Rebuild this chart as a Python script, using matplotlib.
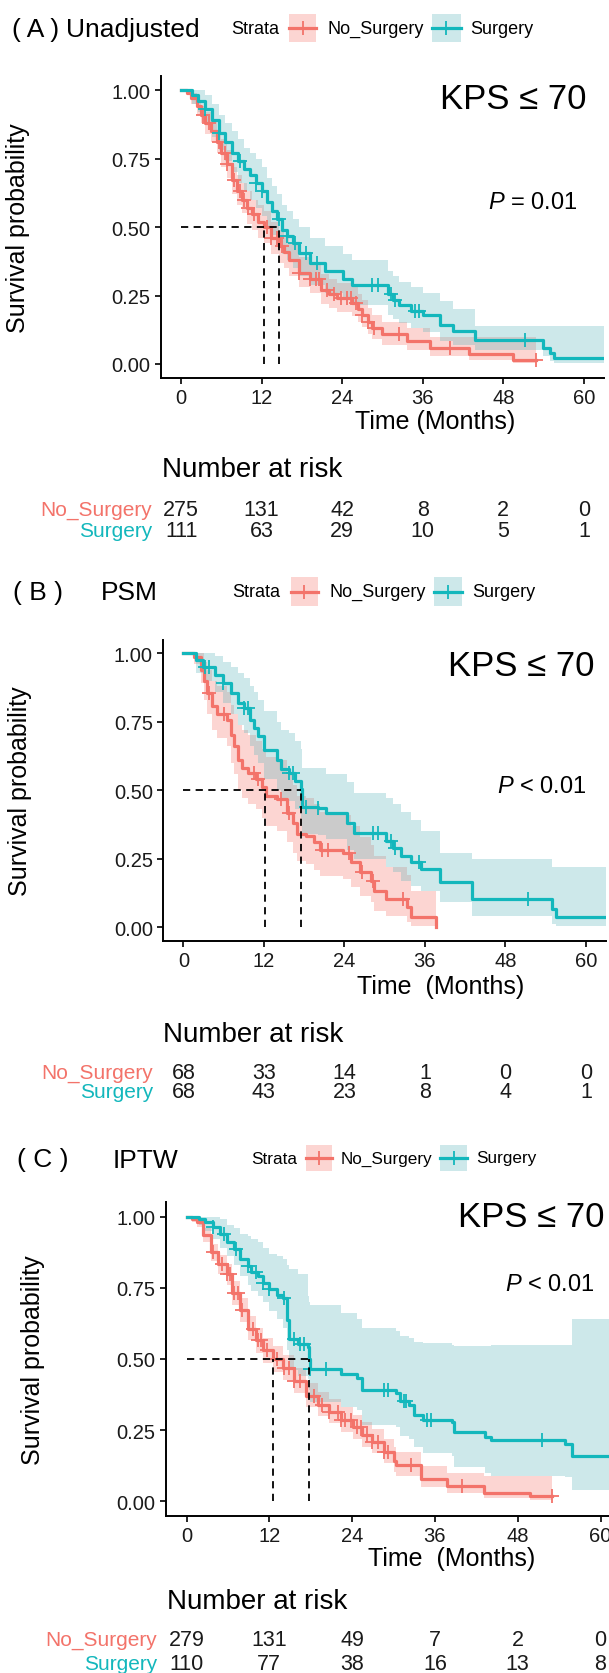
import matplotlib.pyplot as plt
from matplotlib.lines import Line2D
from matplotlib.patches import Rectangle
from matplotlib.transforms import blended_transform_factory
import numpy as np

plt.rcParams['font.family'] = ['Liberation Sans', 'DejaVu Sans']
plt.rcParams['mathtext.fontset'] = 'custom'
plt.rcParams['mathtext.it'] = 'Liberation Sans:italic'
plt.rcParams['mathtext.rm'] = 'Liberation Sans'

W, H = 609, 1674
RED, TEAL = '#F3736A', '#13B7BC'
RED_FILL, TEAL_FILL = '#F8766D', '#5BB5BB'

groups = ['No_Surgery', 'Surgery']
risk_times = [0, 12, 24, 36, 48, 60]

# ---- (A) Unadjusted ----
a_ns_time = [0, 0.8, 1.5, 2.3, 3.0, 3.6, 4.4, 5.3, 6.0, 6.8, 7.6, 8.3, 9.1, 9.8, 10.5, 11.4, 12.3, 13.4,
             14.6, 15.3, 16.0, 17.5, 19.2, 20.9, 22.0, 23.2, 25.5, 26.3, 27.0, 27.8, 28.4, 29.9, 33.6,
             37.1, 42.9, 49.5]
a_ns_surv = [1.0, 0.99, 0.97, 0.94, 0.91, 0.88, 0.85, 0.81, 0.77, 0.73, 0.67, 0.63, 0.60, 0.57, 0.546,
             0.52, 0.50, 0.46, 0.43, 0.41, 0.38, 0.333, 0.31, 0.27, 0.255, 0.24, 0.223, 0.20, 0.18, 0.155,
             0.13, 0.108, 0.083, 0.059, 0.035, 0.016]
a_ns_lower = [1.0, 0.98, 0.95, 0.91, 0.88, 0.84, 0.81, 0.77, 0.72, 0.68, 0.62, 0.58, 0.55, 0.51, 0.49,
              0.46, 0.44, 0.40, 0.37, 0.35, 0.32, 0.28, 0.26, 0.22, 0.205, 0.19, 0.175, 0.155, 0.135, 0.11,
              0.09, 0.07, 0.05, 0.03, 0.015, 0.004]
a_ns_upper = [1.0, 1.0, 0.99, 0.96, 0.94, 0.92, 0.89, 0.85, 0.82, 0.78, 0.72, 0.69, 0.66, 0.63, 0.60,
              0.58, 0.56, 0.52, 0.49, 0.47, 0.44, 0.39, 0.37, 0.33, 0.31, 0.295, 0.28, 0.255, 0.235, 0.205,
              0.18, 0.155, 0.13, 0.10, 0.10, 0.10]
a_ns_end = 52.8
a_ns_cens = [3.3, 4.2, 5.6, 6.5, 6.8, 7.9, 8.8, 9.4, 9.9, 10.8, 12.8, 13.4, 14.3, 15.1, 17.5, 19.2, 20.1,
             20.6, 21.8, 22.7, 23.8, 24.7, 25.3, 26.1, 27.0, 27.9, 28.7, 32.5, 40.0, 52.8]

a_s_time = [0, 1.6, 2.5, 3.6, 4.6, 5.6, 6.6, 7.6, 8.5, 9.4, 10.2, 11.1, 12.0, 12.8, 13.6, 14.3, 15.0, 15.7,
            16.6, 17.5, 19.2, 21.5, 24.1, 25.5, 30.8, 31.6, 32.5, 34.2, 36.0, 38.6, 40.5, 43.8, 53.9, 55.0,
            55.6]
a_s_surv = [1.0, 0.98, 0.96, 0.93, 0.89, 0.844, 0.81, 0.77, 0.74, 0.71, 0.69, 0.66, 0.63, 0.59, 0.56, 0.53,
            0.49, 0.467, 0.44, 0.406, 0.37, 0.34, 0.31, 0.29, 0.254, 0.235, 0.217, 0.195, 0.18, 0.144, 0.12,
            0.089, 0.059, 0.04, 0.022]
a_s_lower = [1.0, 0.95, 0.92, 0.88, 0.83, 0.78, 0.74, 0.70, 0.66, 0.63, 0.60, 0.57, 0.54, 0.50, 0.47, 0.44,
             0.40, 0.38, 0.35, 0.32, 0.29, 0.26, 0.235, 0.215, 0.18, 0.165, 0.15, 0.13, 0.115, 0.085, 0.07,
             0.05, 0.03, 0.01, 0.003]
a_s_upper = [1.0, 1.0, 1.0, 0.98, 0.95, 0.91, 0.88, 0.85, 0.82, 0.79, 0.77, 0.75, 0.72, 0.68, 0.65, 0.62,
             0.58, 0.56, 0.53, 0.50, 0.46, 0.43, 0.40, 0.38, 0.34, 0.32, 0.30, 0.28, 0.26, 0.23, 0.20, 0.14,
             0.14, 0.14, 0.14]
a_s_end = 63
a_s_cens = [3.6, 5.6, 8.8, 11.1, 12.0, 14.6, 15.7, 16.9, 18.6, 20.3, 28.4, 29.3, 31.3, 31.9, 34.8, 35.4, 51.3]

a_medians = [12.4, 14.6]
a_risk_ns = [275, 131, 42, 8, 2, 0]
a_risk_s = [111, 63, 29, 10, 5, 1]

# ---- (B) PSM ----
b_ns_time = [0, 1.6, 2.7, 3.1, 3.6, 4.3, 5.0, 6.5, 7.1, 7.6, 8.2, 8.8, 9.7, 10.8, 11.7, 12.3, 14.0, 15.4,
             16.3, 16.9, 18.3, 19.5, 20.3, 23.8, 25.0, 26.4, 27.9, 28.4, 30.2, 33.4, 33.9, 37.7]
b_ns_surv = [1.0, 0.985, 0.94, 0.90, 0.855, 0.806, 0.78, 0.757, 0.70, 0.66, 0.61, 0.58, 0.564, 0.54, 0.51,
             0.48, 0.467, 0.418, 0.38, 0.34, 0.333, 0.31, 0.28, 0.27, 0.236, 0.20, 0.17, 0.133, 0.103, 0.073,
             0.036, 0.0]
b_ns_lower = [1.0, 0.96, 0.89, 0.83, 0.78, 0.72, 0.69, 0.66, 0.60, 0.56, 0.50, 0.47, 0.45, 0.43, 0.40, 0.37,
              0.35, 0.31, 0.27, 0.24, 0.23, 0.21, 0.185, 0.175, 0.145, 0.115, 0.09, 0.06, 0.04, 0.02, 0.005,
              0.0]
b_ns_upper = [1.0, 1.0, 1.0, 0.97, 0.94, 0.90, 0.88, 0.86, 0.81, 0.78, 0.74, 0.72, 0.70, 0.68, 0.65, 0.62,
              0.61, 0.56, 0.52, 0.48, 0.47, 0.45, 0.42, 0.41, 0.37, 0.33, 0.30, 0.26, 0.22, 0.19, 0.13, 0.13]
b_ns_end = 37.7
b_ns_cens = [3.9, 6.1, 10.5, 11.1, 14.6, 15.7, 20.6, 21.5, 24.7, 26.7, 28.2, 32.8]

b_s_time = [0, 1.85, 3.0, 4.7, 5.9, 7.1, 8.2, 9.1, 9.9, 10.5, 11.1, 12.0, 14.0, 14.6, 15.7, 16.6, 17.5,
            17.7, 20.0, 21.2, 24.4, 25.4, 30.2, 31.3, 32.5, 33.9, 35.4, 38.3, 43.1, 55.0, 55.5]
b_s_surv = [1.0, 0.976, 0.95, 0.92, 0.89, 0.855, 0.82, 0.80, 0.757, 0.727, 0.697, 0.648, 0.61, 0.576,
            0.564, 0.533, 0.503, 0.44, 0.436, 0.418, 0.38, 0.345, 0.315, 0.29, 0.26, 0.236, 0.212, 0.164,
            0.103, 0.067, 0.036]
b_s_lower = [1.0, 0.93, 0.90, 0.86, 0.82, 0.78, 0.74, 0.71, 0.66, 0.63, 0.60, 0.54, 0.50, 0.47, 0.46, 0.43,
             0.40, 0.34, 0.335, 0.32, 0.28, 0.25, 0.22, 0.20, 0.17, 0.15, 0.13, 0.09, 0.04, 0.012, 0.004]
b_s_upper = [1.0, 1.0, 1.0, 0.99, 0.97, 0.95, 0.93, 0.91, 0.88, 0.86, 0.83, 0.79, 0.75, 0.72, 0.71, 0.68,
             0.65, 0.58, 0.58, 0.56, 0.53, 0.49, 0.47, 0.45, 0.42, 0.39, 0.35, 0.27, 0.25, 0.22, 0.22]
b_s_end = 63
b_s_cens = [3.3, 3.9, 5.9, 9.1, 9.7, 15.7, 16.3, 18.3, 20.1, 28.2, 29.0, 31.0, 31.6, 35.1, 51.3]

b_medians = [12.1, 17.6]
b_risk_ns = [68, 33, 14, 1, 0, 0]
b_risk_s = [68, 43, 23, 8, 4, 1]

# ---- (C) IPTW ----
c_ns_time = [0, 0.8, 1.5, 2.4, 3.5, 4.6, 5.8, 6.6, 7.7, 8.9, 10.0, 11.1, 12.5, 14.0, 15.6, 17.3, 19.0,
             20.7, 22.4, 24.1, 25.5, 26.9, 28.6, 30.0, 30.3, 34.0, 37.7, 43.1, 49.8]
c_ns_surv = [1.0, 0.99, 0.982, 0.935, 0.875, 0.833, 0.798, 0.732, 0.673, 0.607, 0.565, 0.53, 0.50, 0.47,
             0.423, 0.37, 0.34, 0.315, 0.286, 0.262, 0.232, 0.208, 0.173, 0.143, 0.127, 0.08, 0.054, 0.03,
             0.018]
c_ns_lower = [1.0, 0.98, 0.965, 0.91, 0.845, 0.80, 0.76, 0.69, 0.63, 0.565, 0.52, 0.485, 0.455, 0.425, 0.38,
              0.33, 0.30, 0.275, 0.245, 0.22, 0.19, 0.17, 0.135, 0.105, 0.09, 0.05, 0.03, 0.012, 0.005]
c_ns_upper = [1.0, 1.0, 0.995, 0.96, 0.905, 0.865, 0.835, 0.775, 0.715, 0.65, 0.61, 0.575, 0.545, 0.515,
              0.47, 0.415, 0.385, 0.36, 0.33, 0.305, 0.28, 0.255, 0.22, 0.19, 0.175, 0.125, 0.10, 0.09, 0.09]
c_ns_end = 53.0
c_ns_cens = [3.8, 5.2, 5.8, 6.3, 6.9, 7.5, 8.0, 9.7, 10.3, 10.8, 11.7, 13.1, 14.2, 14.8, 15.6, 16.5, 18.5,
             19.6, 20.7, 21.9, 22.4, 23.0, 23.8, 24.7, 25.3, 26.1, 26.9, 27.8, 28.6, 29.2, 32.6, 39.9, 53.0]

c_s_time = [0, 1.8, 2.7, 3.8, 4.9, 5.8, 6.9, 7.7, 8.9, 9.4, 10.3, 11.1, 12.0, 13.1, 14.0, 14.5, 14.8, 16.2,
            17.6, 17.7, 17.9, 22.4, 24.7, 25.5, 30.3, 30.9, 32.3, 32.9, 34.3, 38.5, 38.8, 43.3, 44.2, 54.9,
            55.8]
c_s_surv = [1.0, 0.99, 0.982, 0.964, 0.94, 0.91, 0.887, 0.851, 0.827, 0.804, 0.79, 0.768, 0.744, 0.726,
            0.714, 0.637, 0.571, 0.554, 0.542, 0.5, 0.464, 0.446, 0.435, 0.39, 0.381, 0.351, 0.34, 0.304,
            0.286, 0.28, 0.244, 0.226, 0.214, 0.202, 0.16]
c_s_lower = [1.0, 0.97, 0.95, 0.92, 0.89, 0.86, 0.83, 0.79, 0.76, 0.74, 0.72, 0.70, 0.67, 0.64, 0.61, 0.53,
             0.46, 0.44, 0.43, 0.39, 0.35, 0.33, 0.32, 0.27, 0.26, 0.23, 0.22, 0.19, 0.17, 0.16, 0.12, 0.10,
             0.09, 0.085, 0.04]
c_s_upper = [1.0, 1.0, 1.0, 1.0, 0.99, 0.97, 0.96, 0.94, 0.93, 0.92, 0.91, 0.89, 0.87, 0.86, 0.85, 0.83,
             0.815, 0.80, 0.72, 0.70, 0.69, 0.66, 0.64, 0.61, 0.60, 0.58, 0.575, 0.56, 0.555, 0.55, 0.545,
             0.545, 0.55, 0.55, 0.64]
c_s_end = 63
c_s_cens = [3.8, 5.5, 7.2, 8.9, 10.0, 11.1, 12.0, 14.2, 15.6, 16.5, 17.1, 17.9, 20.2, 28.6, 29.2, 31.5, 31.8,
            34.9, 35.4, 51.5]

c_medians = [12.5, 17.7]
c_risk_ns = [279, 131, 49, 7, 2, 0]
c_risk_s = [110, 77, 38, 16, 13, 8]


fig = plt.figure(figsize=(W / 100, H / 100), dpi=100)


def fx(x):
    return x / W


def fy(y):
    return 1 - y / H


def put(x, y, s, size, ha='left', **kw):
    fig.text(fx(x), fy(y), s, fontsize=size, ha=ha, va='center', **kw)


def draw_km(ax, t, s, lo, hi, end, cens, color, fill):
    tt = list(t) + [end]
    ax.fill_between(tt, list(lo) + [lo[-1]], list(hi) + [hi[-1]], step='post',
                    color=fill, alpha=0.3, lw=0, zorder=1)
    ax.step(tt, list(s) + [s[-1]], where='post', color=color, lw=2.3, zorder=3)
    idx = np.searchsorted(t, cens, side='right') - 1
    ax.plot(cens, np.array(s)[idx], ls='none', marker='+', ms=10, mew=1.3,
            color=color, zorder=3)


def legend_key(x0, x1, y0, y1, color, fill):
    fig.add_artist(Rectangle((fx(x0), fy(y1)), (x1 - x0) / W, (y1 - y0) / H,
                             transform=fig.transFigure, facecolor=fill, alpha=0.3, lw=0))
    cy = (y0 + y1) / 2
    fig.add_artist(Line2D([fx(x0), fx(x1)], [fy(cy)] * 2, transform=fig.transFigure,
                          color=color, lw=2.3))
    fig.add_artist(Line2D([fx((x0 + x1) / 2)], [fy(cy)], transform=fig.transFigure,
                          marker='+', ms=10, mew=1.3, color=color))


panels = [
    dict(tag='( A )', name='Unadjusted', title_y=30, tag_x=12, name_x=66,
         leg_y=(15, 43), leg_x=(231, 289, 316, 327.5, 432, 460.5, 470), leg_fs=13,
         box=(161, 77.3, 604, 378.7), kps=(587, 99.5), p=(577.5, 203, r'$P$ = 0.01'),
         ylab=(18.4, 228), xlab=(355, 421.7, 'Time (Months)'), nar=(162, 470),
         rows=(510, 532, 152),
         ns=(a_ns_time, a_ns_surv, a_ns_lower, a_ns_upper, a_ns_end, a_ns_cens),
         s=(a_s_time, a_s_surv, a_s_lower, a_s_upper, a_s_end, a_s_cens),
         med=a_medians, risk=(a_risk_ns, a_risk_s)),
    dict(tag='( B )', name='PSM', title_y=593, tag_x=13, name_x=101,
         leg_y=(578, 607), leg_x=(232.5, 290.7, 317.8, 329.5, 434, 462, 472), leg_fs=13,
         box=(163.2, 640.7, 606, 941.7), kps=(595, 666.7), p=(587, 786.7, r'$P$ < 0.01'),
         ylab=(20.3, 791), xlab=(356.6, 986.7, 'Time  (Months)'), nar=(163, 1035),
         rows=(1073.3, 1092.7, 153),
         ns=(b_ns_time, b_ns_surv, b_ns_lower, b_ns_upper, b_ns_end, b_ns_cens),
         s=(b_s_time, b_s_surv, b_s_lower, b_s_upper, b_s_end, b_s_cens),
         med=b_medians, risk=(b_risk_ns, b_risk_s)),
    dict(tag='( C )', name='IPTW', title_y=1160.5, tag_x=17, name_x=112.4,
         leg_y=(1146, 1172), leg_x=(251, 306, 332, 341, 440, 467, 476), leg_fs=12.3,
         box=(165.8, 1203.3, 621.2, 1516.7), kps=(605, 1217.8), p=(595, 1285, r'$P$ < 0.01'),
         ylab=(33, 1360), xlab=(368, 1559, 'Time  (Months)'), nar=(166.7, 1602),
         rows=(1640.7, 1664.7, 157),
         ns=(c_ns_time, c_ns_surv, c_ns_lower, c_ns_upper, c_ns_end, c_ns_cens),
         s=(c_s_time, c_s_surv, c_s_lower, c_s_upper, c_s_end, c_s_cens),
         med=c_medians, risk=(c_risk_ns, c_risk_s)),
]

for pn in panels:
    l, t, r, b = pn['box']
    ax = fig.add_axes([fx(l), fy(b), (r - l) / W, (b - t) / H])
    ax.set_xlim(-3, 63)
    ax.set_ylim(-0.05, 1.05)
    ax.set_xticks(risk_times)
    ax.set_yticks([0, 0.25, 0.5, 0.75, 1.0])
    ax.set_yticklabels(['0.00', '0.25', '0.50', '0.75', '1.00'])
    for sp in ['top', 'right']:
        ax.spines[sp].set_visible(False)
    for sp in ['left', 'bottom']:
        ax.spines[sp].set_linewidth(1.4)
    ax.tick_params(direction='out', length=4, width=1.2, labelsize=14.5,
                   labelcolor='#1a1a1a', pad=3.5)
    ax.patch.set_alpha(0)

    draw_km(ax, *pn['ns'], RED, RED_FILL)
    draw_km(ax, *pn['s'], TEAL, TEAL_FILL)

    m1, m2 = pn['med']
    ax.plot([0, max(m1, m2)], [0.5, 0.5], color='black', ls=(0, (4, 3)), lw=1.3, zorder=4)
    for m in (m1, m2):
        ax.plot([m, m], [0, 0.5], color='black', ls=(0, (4, 3)), lw=1.3, zorder=4)

    # titles and legend
    put(pn['tag_x'], pn['title_y'], pn['tag'], 19)
    put(pn['name_x'], pn['title_y'], pn['name'], 19)
    y0, y1 = pn['leg_y']
    cy = (y0 + y1) / 2
    sx, k1a, k1b, t1, k2a, k2b, t2 = pn['leg_x']
    put(sx, cy, 'Strata', pn['leg_fs'])
    legend_key(k1a, k1b, y0, y1, RED, RED_FILL)
    put(t1, cy, groups[0], pn['leg_fs'])
    legend_key(k2a, k2b, y0, y1, TEAL, TEAL_FILL)
    put(t2, cy, groups[1], pn['leg_fs'])

    put(pn['kps'][0], pn['kps'][1], 'KPS ≤ 70', 25, ha='right')
    put(pn['p'][0], pn['p'][1], pn['p'][2], 17, ha='right')
    fig.text(fx(pn['ylab'][0]), fy(pn['ylab'][1]), 'Survival probability', fontsize=18,
             rotation=90, ha='center', va='center')
    put(pn['xlab'][0], pn['xlab'][1], pn['xlab'][2], 18)

    # risk table
    put(pn['nar'][0], pn['nar'][1], 'Number at risk', 20)
    ry1, ry2, lab_r = pn['rows']
    trans = blended_transform_factory(ax.transData, fig.transFigure)
    for ry, grp, col, nums in [(ry1, groups[0], RED, pn['risk'][0]),
                               (ry2, groups[1], TEAL, pn['risk'][1])]:
        put(lab_r, ry, grp, 15, ha='right', color=col)
        for tm, n in zip(risk_times, nums):
            ax.text(tm, fy(ry), str(n), transform=trans, ha='center', va='center',
                    fontsize=15.5, color='#1a1a1a', clip_on=False)

fig.savefig('out.png', dpi=100)
